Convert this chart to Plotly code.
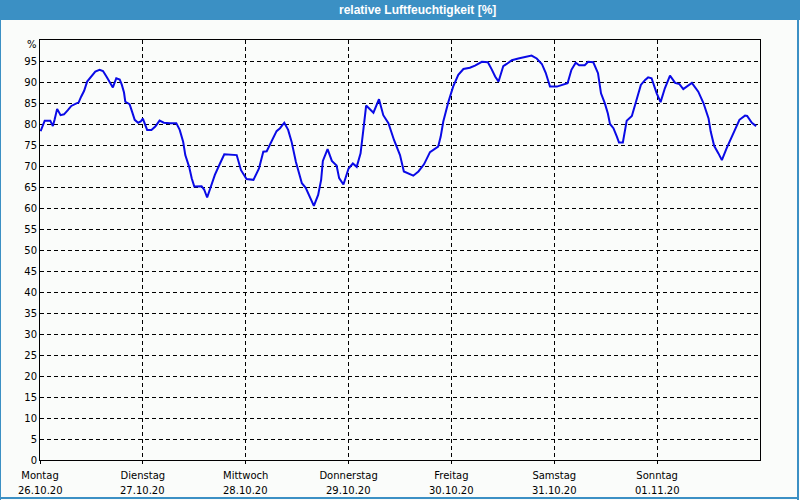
import plotly.graph_objects as go

# ---- data ----
hours = [0.15, 0.7, 1.1, 2.4, 3.0, 3.4, 4.0, 4.8, 5.6, 6.5, 7.3, 8.5, 9.0, 9.6, 10.3, 11.0, 12.0, 12.9,
         13.9, 14.7, 15.5, 16.3, 17.0, 17.8, 18.6, 19.1, 19.6, 19.9, 20.9, 21.5, 22.1, 22.9, 23.5, 24.0,
         24.4, 25.0, 26.0, 26.9, 27.9, 28.9, 30.3, 31.8, 32.6, 33.4, 33.9, 34.8, 35.4, 36.0, 37.7, 38.3,
         39.0, 39.7, 40.8, 42.0, 43.0, 45.9, 46.9, 48.2, 49.8, 51.1, 52.1, 52.9, 54.1, 55.2, 56.0, 57.0,
         57.9, 58.7, 59.7, 60.3, 61.1, 62.0, 63.0, 63.9, 64.9, 65.6, 66.0, 67.1, 68.1, 69.2, 69.8, 70.8,
         72.0, 73.0, 73.9, 74.8, 75.4, 76.1, 77.8, 79.1, 80.1, 81.3, 82.6, 84.0, 84.9, 85.9, 87.1, 88.3,
         89.6, 91.0, 92.9, 93.5, 94.1, 95.3, 96.4, 97.6, 98.8, 100.3, 101.5, 103.1, 104.5, 105.4, 106.2,
         107.0, 108.1, 108.9, 110.1, 111.6, 113.2, 114.7, 115.9, 117.1, 118.0, 119.0, 120.6, 121.9,
         123.1, 124.0, 125.0, 125.8, 127.1, 127.9, 129.1, 130.2, 130.9, 131.8, 132.5, 133.0, 133.8,
         134.6, 135.1, 136.0, 136.9, 138.1, 139.1, 140.2, 141.2, 141.9, 142.7, 143.9, 144.8, 145.8,
         147.0, 148.2, 149.2, 150.1, 152.1, 153.6, 154.8, 156.0, 156.5, 157.3, 158.3, 159.1, 160.2,
         161.8, 163.2, 164.5, 165.0, 166.1, 167.1]
humidity = [78.3, 79.8, 80.8, 80.8, 79.5, 81.0, 83.6, 82.1, 82.3, 83.3, 84.3, 84.9, 85.1, 86.5, 87.9, 90.1,
            91.5, 92.5, 92.9, 92.6, 91.3, 89.8, 88.7, 90.9, 90.6, 89.3, 87.5, 85.3, 84.7, 82.9, 81.0, 80.3,
            80.6, 81.3, 80.2, 78.6, 78.6, 79.4, 80.8, 80.3, 80.2, 80.2, 78.6, 75.8, 72.6, 69.8, 67.1, 65.1,
            65.2, 64.4, 62.5, 64.8, 67.9, 70.6, 72.8, 72.6, 69.0, 66.9, 66.7, 69.4, 73.4, 73.5, 76.2, 78.3,
            79.0, 80.3, 78.6, 75.8, 71.0, 69.0, 65.9, 64.8, 62.7, 60.5, 63.1, 66.7, 71.2, 74.0, 71.2, 70.1,
            67.1, 65.6, 69.4, 70.6, 69.8, 73.0, 78.2, 84.4, 82.7, 85.9, 82.1, 80.2, 76.2, 72.6, 68.7, 68.3,
            67.7, 68.7, 70.4, 73.3, 74.6, 77.0, 80.6, 85.3, 88.9, 91.7, 93.1, 93.4, 93.9, 94.8, 94.7, 93.0,
            91.3, 90.1, 93.8, 94.3, 95.2, 95.6, 96.0, 96.3, 95.6, 94.3, 92.2, 88.9, 88.9, 89.3, 89.7, 92.9,
            94.6, 94.0, 94.0, 94.8, 94.7, 92.1, 87.3, 84.9, 82.5, 80.0, 79.0, 77.0, 75.6, 75.6, 80.8, 81.9,
            85.7, 89.3, 90.5, 91.1, 90.9, 87.3, 85.2, 88.5, 91.5, 89.8, 89.5, 88.3, 89.8, 87.7, 85.0, 81.3,
            78.2, 74.8, 73.0, 71.4, 74.2, 77.8, 81.0, 82.0, 81.9, 80.3, 79.5]

day_names = ["Montag", "Dienstag", "Mittwoch", "Donnerstag", "Freitag", "Samstag", "Sonntag"]
day_dates = ["26.10.20", "27.10.20", "28.10.20", "29.10.20", "30.10.20", "31.10.20", "01.11.20"]
day_hours = [0, 24, 48, 72, 96, 120, 144]
y_ticks = list(range(0, 100, 5))
title_text = "relative Luftfeuchtigkeit [%]"
unit_text = "%"

# ---- layout constants (pixels) ----
W, H = 800, 500
ML, MR, MT, MB = 40, 40, 40, 40
PW, PH = W - ML - MR, H - MT - MB


def px_x(px):
    return (px - ML) / PW


def px_y(py):
    return (H - MB - py) / PH


BLUE = "#3b90c4"
BG = "#fafcfa"
FONT = "DejaVu Sans"

fig = go.Figure()
fig.add_trace(go.Scatter(x=hours, y=humidity, mode="lines",
                         line=dict(color="#0a0ae6", width=2), hoverinfo="skip"))

annotations = [
    dict(text=f"<b>{title_text}</b>", xref="paper", yref="paper",
         x=px_x(417), y=px_y(10), xanchor="center", yanchor="middle",
         showarrow=False, font=dict(family="Liberation Sans", size=12, color="#ffffff")),
    dict(text=unit_text, xref="paper", yref="paper",
         x=px_x(32), y=px_y(45), xanchor="center", yanchor="middle",
         showarrow=False, font=dict(family=FONT, size=10, color="#000000")),
]
for h, d in zip(day_hours, day_dates):
    annotations.append(dict(text=d, xref="x", yref="paper", x=h, y=px_y(490),
                            xanchor="center", yanchor="middle", showarrow=False,
                            font=dict(family=FONT, size=10, color="#000000")))

fig.update_layout(
    width=W, height=H,
    margin=dict(l=ML, r=MR, t=MT, b=MB),
    paper_bgcolor=BG, plot_bgcolor=BG,
    showlegend=False,
    font=dict(family=FONT, size=10, color="#000000"),
    xaxis=dict(range=[0, 168], tickvals=day_hours, ticktext=day_names,
               showgrid=True, gridcolor="#000000", gridwidth=1, griddash="4px,3px",
               showline=True, linecolor="#000000", linewidth=1, mirror=True,
               ticks="outside", ticklen=3, tickcolor="#000000", zeroline=False,
               ticklabelstandoff=3,
               tickfont=dict(family=FONT, size=10, color="#000000")),
    yaxis=dict(range=[0, 100], tickvals=y_ticks,
               showgrid=True, gridcolor="#000000", gridwidth=1, griddash="4px,3px",
               showline=True, linecolor="#000000", linewidth=1, mirror=True,
               ticks="", zeroline=False,
               tickfont=dict(family=FONT, size=10, color="#000000")),
    shapes=[
        dict(type="rect", xref="paper", yref="paper",
             x0=px_x(0), x1=px_x(W), y0=px_y(20), y1=px_y(0),
             fillcolor=BLUE, line=dict(width=0), layer="above"),
        dict(type="rect", xref="paper", yref="paper",
             x0=px_x(0), x1=px_x(1), y0=px_y(H), y1=px_y(0),
             fillcolor=BLUE, line=dict(width=0), layer="above"),
        dict(type="rect", xref="paper", yref="paper",
             x0=px_x(797), x1=px_x(799), y0=px_y(H), y1=px_y(0),
             fillcolor=BLUE, line=dict(width=0), layer="above"),
        dict(type="rect", xref="paper", yref="paper",
             x0=px_x(0), x1=px_x(799), y0=px_y(499), y1=px_y(497),
             fillcolor=BLUE, line=dict(width=0), layer="above"),
    ],
    annotations=annotations,
)

fig.write_html("out.html")
